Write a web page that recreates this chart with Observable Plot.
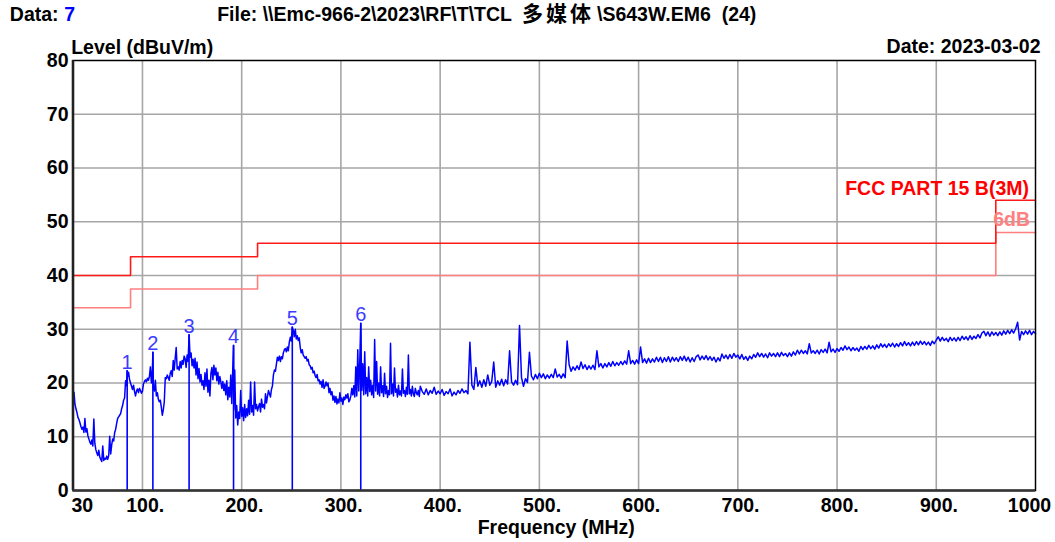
<!DOCTYPE html>
<html>
<head>
<meta charset="utf-8">
<script src="https://cdn.jsdelivr.net/npm/d3@7"></script>
<script src="https://cdn.jsdelivr.net/npm/@observablehq/plot@0.6"></script>
<style>
  html, body { margin: 0; padding: 0; background: #fff; }
  #chart { width: 1055px; height: 542px; overflow: hidden; }
</style>
</head>
<body>
<div id="chart"></div>
<script>
// ---------- data ----------
const headerLabel = "Data: ";
const headerData = "7";
const filePrefix = "File: \\\\Emc-966-2\\2023\\RF\\T\\TCL ";
const fileCjk = "多媒体";
const fileSuffix = "\\S643W.EM6  (24)";
const dateLabel = "Date: 2023-03-02";
const yTitle = "Level (dBuV/m)";
const xTitle = "Frequency (MHz)";
const limitName = "FCC PART 15 B(3M)";
const marginName = "6dB";

const yTicks = [0, 10, 20, 30, 40, 50, 60, 70, 80];
const yTickLabels = ["0", "10", "20", "30", "40", "50", "60", "70", "80"];
const yGrid = [10, 20, 30, 40, 50, 60, 70];
const xTicks = [30, 100, 200, 300, 400, 500, 600, 700, 800, 900, 1000];
const xTickLabels = ["30", "100.", "200.", "300.", "400.", "500.", "600.", "700.", "800.", "900.", "1000"];
const xGrid = [100, 200, 300, 400, 500, 600, 700, 800, 900];

// FCC Part 15 B (3 m) limit and -6 dB margin (step-after)
const limitFreq = [30, 88, 216, 960, 1000];
const limitLevel = [40, 43.5, 46, 54, 54];
const marginLevel = [34, 37.5, 40, 48, 48];

// marked peaks
const markerId = ["1", "2", "3", "4", "5", "6"];
const markerFreq = [84.6, 110.5, 147.0, 191.8, 251.0, 320.0];
const markerLevel = [22.3, 25.7, 29.0, 27.0, 30.4, 31.1];

// measured trace [MHz, dBuV/m]
const traceLow = [
[30,19.0],[30.5,16.2],[31,18.3],[32,16.0],[33,15.2],[34,14.5],[35,13.6],[36,13.2],[37,12.6],[38,11.9],
[39,11.4],[40,11.8],[41,10.8],[42,13.4],[43,10.9],[44,11.5],[45,10.2],[46,9.6],[47,9.0],[48,8.6],
[49,9.4],[50,8.3],[51,13.3],[52,8.8],[53,7.6],[54,7.0],[55,6.5],[56,7.5],[57,6.2],[58,5.8],
[59,5.4],[60,8.3],[61,5.6],[62,6.0],[63,5.8],[64,6.4],[65,5.8],[66,6.5],[67,10.1],[68,6.8],
[69,8.5],[70,9.6],[71,9.2],[72,10.8],[73,11.4],[74,12.5],[75,13.4],[76,13.7],[77,14.0],[78,14.3],
[79,15.2],[80,15.8],[81,16.8],[82,17.2],[83,20.4],[84,19.5],[84.6,22.3],[85,21.2],[86,22.0],[87,20.6],
[88,20.0],[89,19.4],[90,18.8],[91,19.6],[92,18.4],[93,17.6],[94,18.5],[95,18.9],[96,18.2],[97,19.0],
[98,18.6],[99,18.1],[100,18.5],[101,19.8],[102,20.3],[103,20.6],[104,20.2],[105,20.9],[106,20.5],[107,21.2],
[108,23.0],[109,20.0],[110,22.5],[110.5,25.7],[111,19.0],[112,18.5],[113,20.5],[114,17.6],[115,18.2],[116,17.0],
[117,16.5],[118,16.8],[119,15.5],[120,14.0],[121,15.0],[122,16.5],[123,21.0],[124,20.8],[125,21.5],[126,21.0],
[127,20.5],[128,21.8],[129,22.3],[130,21.2],[131,24.2],[132,22.4],[133,24.6],[134,26.6],[135,22.6],[136,23.0],
[137,22.4],[138,24.0],[139,22.8],[140,24.2],[141,23.5],[142,25.0],[143,24.5],[144,22.9],[145,25.2],[146,24.0],
[147,29.0],[148,24.8],[149,25.6],[150,23.2],[151,24.4],[152,22.8],[153,24.6],[154,21.5],[155,23.9],[156,20.8],
[157,22.7],[158,20.2],[159,21.6],[160,19.6],[161,20.4],[162,18.8],[163,21.9],[164,19.4],[165,22.6],[166,18.3],
[167,20.5],[168,17.6],[169,21.8],[170,22.9],[171,20.6],[172,23.3],[173,21.5],[174,22.8],[175,20.4],[176,22.0],
[177,19.8],[178,21.2],[179,20.2],[180,19.0],[181,20.3],[182,18.6],[183,19.8],[184,17.8],[185,20.4],[186,16.9],
[187,19.2],[188,17.4],[189,21.5],[190,16.2],[191,22.6],[191.8,27.0],[192,15.0],[193,22.4],[194,13.5],[195,15.8],
[196,12.2],[197,14.6],[198,13.4],[199,18.6],[200,13.8],[201,15.4],[202,13.0],[203,16.0],[204,13.6],[205,15.2],
[206,13.9],[207,16.8],[208,14.2],[209,20.2],[210,14.6],[211,15.8],[212,14.0],[213,20.2],[214,15.2],[215,16.0],
[216,14.8],[217,15.6],[218,16.2],[219,14.6],[220,17.0],[221,15.5],[222,16.0],[223,15.2],[224,18.0],[225,16.3],
[226,17.5],[227,18.6],[228,18.0],[229,17.4],[230,18.8],[231,19.5],[232,21.5],[233,22.4],[234,22.2],[235,23.5],
[236,24.8],[237,24.2],[238,25.0],[239,24.0],[240,24.9],[241,24.5],[242,25.6],[243,26.2],[244,26.4],[245,25.8],
[246,26.7],[247,26.0],[248,27.6],[249,28.5],[250,27.8],[251,30.4],[252,29.8],[253,28.6],[254,30.0],[255,28.2],
[256,28.8],[257,27.9],[258,28.4],[259,26.6],[260,25.6],[261,26.2],[262,25.2],[263,24.9],[264,24.6],[265,24.9],
[266,24.1],[267,24.4],[268,23.4],[269,23.2],[270,22.6],[271,22.9],[272,21.9],[273,22.2],[274,21.4],[275,21.0],
[276,21.6],[277,20.4],[278,20.6],[279,19.8],[280,20.3],[281,19.2],[282,20.6],[283,19.0],[284,19.4],[285,20.2],
[286,19.5],[287,20.0],[288,18.2],[289,19.0],[290,17.8],[291,18.4],[292,16.8],[293,17.6],[294,16.4],[295,17.5],
[296,16.1],[297,17.0],[298,16.3],[299,18.2],[300,16.6],[301,17.2],[302,16.0],[303,17.4],[304,16.9],[305,17.8],
[306,17.2],[307,18.0],[308,16.5],[309,16.8],[310,17.6],[311,19.0],[312,17.8],[313,19.5],[314,17.4],[315,23.0],
[316,17.6],[317,26.2],[318,18.5],[319,24.0],[320,31.1],[321,18.6],[322,23.6],[323,17.8],[324,25.8],[325,18.0],
[326,21.0],[327,17.6],[328,23.0],[329,18.4],[330,20.5],[331,17.8],[332,19.6],[333,17.3],[334,28.1],[335,18.5],
[336,24.0],[337,17.9],[338,20.0],[339,17.6],[340,23.0],[341,18.2],[342,19.5],[343,17.5],[344,21.8],[345,18.0],
[346,19.4],[347,17.3],[348,18.6],[349,17.8],[350,27.4],[351,18.0],[352,19.8],[353,17.6],[354,22.8],[355,18.3],
[356,18.9],[357,17.4],[358,19.6],[359,17.8],[360,18.5],[361,17.6],[362,22.6],[363,18.1],[364,18.6],[365,17.5],
[366,19.2],[367,17.9],[368,25.2],[369,18.0],[370,18.8],[371,17.6],[372,19.4],[373,18.0],[374,17.5],[375,19.0],
[376,18.2],[377,17.8],[378,18.6],[379,17.5],[380,19.4]
];
const traceHigh = [
[382,18.4],[384,17.9],[386,18.9],[388,17.8],[390,18.6],[392,18.1],[394,19.2],[396,17.9],[398,18.5],[400,18.0],
[402,18.8],[404,17.7],[406,18.4],[408,18.0],[410,18.9],[412,17.6],[414,18.3],[416,17.8],[418,18.6],[420,18.1],
[422,18.9],[424,18.2],[426,18.6],[428,18.0],[430,27.6],[432,19.6],[434,18.8],[436,22.9],[438,19.4],[440,20.4],
[442,19.2],[444,20.6],[446,19.4],[448,21.5],[450,19.6],[452,20.3],[454,23.9],[456,19.2],[458,20.4],[460,19.6],
[462,20.7],[464,19.5],[466,20.6],[468,19.8],[470,26.0],[472,20.2],[474,19.6],[476,20.5],[478,19.7],[480,30.7],
[482,21.0],[484,19.4],[486,20.8],[488,20.1],[490,25.7],[492,21.3],[494,20.6],[496,21.6],[498,20.8],[500,21.8],
[502,21.0],[504,21.7],[506,20.8],[508,21.5],[510,20.9],[512,21.6],[514,21.0],[516,22.6],[518,21.1],[520,21.6],
[522,20.9],[524,21.7],[526,21.0],[528,27.8],[530,23.4],[532,22.2],[534,23.0],[536,22.4],[538,23.2],[540,22.5],
[542,23.9],[544,22.7],[546,23.4],[548,22.5],[550,23.2],[552,22.6],[554,23.3],[556,22.5],[558,26.0],[560,23.0],
[562,23.6],[564,22.8],[566,23.6],[568,23.0],[570,23.8],[572,23.1],[574,24.0],[576,23.2],[578,23.8],[580,23.3],
[582,24.0],[584,23.4],[586,24.1],[588,23.5],[590,26.0],[592,23.6],[594,24.2],[596,23.5],[598,24.3],[600,23.6],
[602,26.7],[604,23.8],[606,24.5],[608,23.7],[610,24.6],[612,23.8],[614,24.5],[616,23.9],[618,24.8],[620,24.0],
[622,24.8],[624,23.8],[626,24.7],[628,24.0],[630,24.9],[632,23.9],[634,24.8],[636,24.1],[638,24.7],[640,24.0],
[642,24.9],[644,24.2],[646,25.0],[648,24.1],[650,24.8],[652,23.9],[654,24.7],[656,24.0],[658,24.9],[660,25.2],
[662,24.3],[664,25.0],[666,24.4],[668,25.1],[670,24.3],[672,24.9],[674,24.2],[676,24.8],[678,23.9],[680,24.7],
[682,24.1],[684,25.4],[686,24.6],[688,25.2],[690,24.5],[692,25.3],[694,24.6],[696,25.5],[698,24.8],[700,25.2],
[702,24.5],[704,25.3],[706,24.4],[708,24.9],[710,24.2],[712,25.0],[714,24.5],[716,25.3],[718,24.8],[720,25.6],
[722,24.9],[724,25.5],[726,24.8],[728,25.4],[730,24.7],[732,25.6],[734,25.0],[736,25.5],[738,24.9],[740,25.6],
[742,24.9],[744,25.7],[746,25.1],[748,25.5],[750,24.9],[752,25.6],[754,25.0],[756,25.8],[758,25.2],[760,26.1],
[762,25.4],[764,26.1],[766,25.5],[768,26.0],[770,25.4],[772,27.3],[774,25.6],[776,26.0],[778,25.5],[780,26.1],
[782,25.4],[784,26.2],[786,25.7],[788,26.3],[790,25.6],[792,27.6],[794,25.8],[796,26.3],[798,25.7],[800,26.4],
[802,25.9],[804,26.6],[806,26.1],[808,26.9],[810,26.2],[812,26.7],[814,26.0],[816,26.6],[818,26.1],[820,26.5],
[822,25.9],[824,26.8],[826,26.2],[828,26.8],[830,26.3],[832,27.0],[834,26.4],[836,26.9],[838,26.3],[840,27.1],
[842,26.5],[844,27.3],[846,26.7],[848,27.2],[850,26.6],[852,27.3],[854,26.8],[856,27.4],[858,26.7],[860,27.3],
[862,26.8],[864,27.5],[866,26.9],[868,27.7],[870,27.0],[872,27.5],[874,26.9],[876,27.6],[878,27.0],[880,27.7],
[882,27.1],[884,27.8],[886,27.2],[888,27.7],[890,27.1],[892,27.6],[894,27.0],[896,27.8],[898,27.3],[900,28.0],
[902,28.6],[904,27.8],[906,28.5],[908,27.9],[910,28.3],[912,27.7],[914,28.5],[916,27.9],[918,28.4],[920,27.8],
[922,28.5],[924,27.9],[926,28.7],[928,28.1],[930,28.6],[932,28.0],[934,28.8],[936,28.1],[938,28.7],[940,28.3],
[942,29.0],[944,28.4],[946,29.3],[948,29.6],[950,28.8],[952,29.5],[954,28.7],[956,29.5],[958,28.9],[960,29.4],
[962,28.8],[964,29.5],[966,28.9],[968,29.7],[970,29.1],[972,29.8],[974,29.2],[976,29.9],[978,29.3],[980,30.1],
[982,31.3],[984,28.0],[986,29.6],[988,29.0],[990,29.7],[992,29.1],[994,29.8],[996,29.0],[998,29.6],[1000,29.2]
];

// ---------- build ----------
const trace = traceLow.concat(traceHigh).map(([f, v]) => ({f, v}));
const limit = limitFreq.map((f, i) => ({f, v: limitLevel[i]}));
const margin = limitFreq.map((f, i) => ({f, v: marginLevel[i]}));
const markers = markerId.map((id, i) => ({id, f: markerFreq[i], v: markerLevel[i]}));
const yTickData = yTicks.map((v, i) => ({v, t: yTickLabels[i]}));
const xTickData = xTicks.map((f, i) => ({f, t: xTickLabels[i]}));
const xMid = xTickData.slice(1, -1);

const FONT = "'Liberation Sans', Arial, 'Noto Sans CJK SC', sans-serif";
const FS = 19.5;
const txt = {fontSize: FS, fontWeight: "bold", fill: "black"};
const head = {frameAnchor: "top-left", dy: -39.3, textAnchor: "start", lineAnchor: "bottom", ...txt};

const chart = Plot.plot({
  width: 1055,
  height: 542,
  marginTop: 60,
  marginBottom: 52,
  marginLeft: 72.5,
  marginRight: 20,
  x: {domain: [30, 1000], axis: null},
  y: {domain: [0, 80], axis: null},
  style: {fontFamily: FONT, background: "white", overflow: "visible"},
  marks: [
    Plot.ruleY(yGrid, {stroke: "#a6a6a6", strokeWidth: 1.6}),
    Plot.ruleX(xGrid, {stroke: "#a6a6a6", strokeWidth: 1.6}),
    Plot.line(margin, {x: "f", y: "v", curve: "step-after", stroke: "#ff7f7f", strokeWidth: 1.6}),
    Plot.line(limit, {x: "f", y: "v", curve: "step-after", stroke: "#ff1a1a", strokeWidth: 1.6}),
    Plot.line(trace, {x: "f", y: "v", stroke: "#0000ff", strokeWidth: 1.5}),
    Plot.ruleX(markers, {x: "f", y1: 0, y2: "v", stroke: "#0000ff", strokeWidth: 1.6}),
    Plot.text(markers, {x: "f", y: "v", text: "id", dy: -2, lineAnchor: "bottom", fontSize: 20, fill: "#3c3cff"}),
    Plot.frame({stroke: "black", strokeWidth: 1.5}),
    Plot.ruleX([30], {stroke: "#222", strokeWidth: 2.6}),
    Plot.ruleY([0], {stroke: "#333", strokeWidth: 2.6}),
    // limit labels
    Plot.text([limitName], {text: d => d, frameAnchor: "top-right", dx: -6.5, dy: 134.3, textAnchor: "end", lineAnchor: "bottom", ...txt, fill: "#ff0000"}),
    Plot.text([marginName], {text: d => d, frameAnchor: "top-right", dx: -5.5, dy: 165, textAnchor: "end", lineAnchor: "bottom", ...txt, fill: "#ff8080"}),
    // y tick labels
    Plot.text(yTickData, {x: 30, y: "v", text: "t", dx: -4.5, textAnchor: "end", lineAnchor: "middle", ...txt}),
    // x tick labels
    Plot.text([xTickData[0]], {x: "f", y: 0, text: "t", dx: -1.5, dy: 15, textAnchor: "start", lineAnchor: "middle", ...txt}),
    Plot.text(xMid, {x: "f", y: 0, text: "t", dx: 2.7, dy: 15, textAnchor: "middle", lineAnchor: "middle", ...txt}),
    Plot.text([xTickData[xTickData.length - 1]], {x: "f", y: 0, text: "t", dx: -6, dy: 15, textAnchor: "middle", lineAnchor: "middle", ...txt}),
    // titles
    Plot.text([yTitle], {text: d => d, frameAnchor: "top-left", dx: -1.8, dy: -6.7, textAnchor: "start", lineAnchor: "bottom", ...txt}),
    Plot.text([xTitle], {text: d => d, frameAnchor: "bottom", dx: 2, dy: 43, textAnchor: "middle", lineAnchor: "bottom", ...txt}),
    Plot.text([dateLabel], {text: d => d, frameAnchor: "top-right", dx: 5, dy: -7.5, textAnchor: "end", lineAnchor: "bottom", ...txt}),
    // header
    Plot.text([headerLabel], {text: d => d, dx: -63.2, ...head}),
    Plot.text([headerData], {text: d => d, dx: -8.8, ...head, fill: "#0000ff"}),
    Plot.text([filePrefix], {text: d => d, dx: 144.2, ...head}),
    Plot.text([fileCjk], {text: d => d, dx: 449, ...head, fontSize: 21}),
    Plot.text([fileSuffix], {text: d => d, dx: 524, ...head})
  ]
});
d3.select(chart).selectAll("text").filter(function () { return this.textContent === fileCjk; })
  .attr("letter-spacing", "3px");
document.getElementById("chart").appendChild(chart);
</script>
</body>
</html>
